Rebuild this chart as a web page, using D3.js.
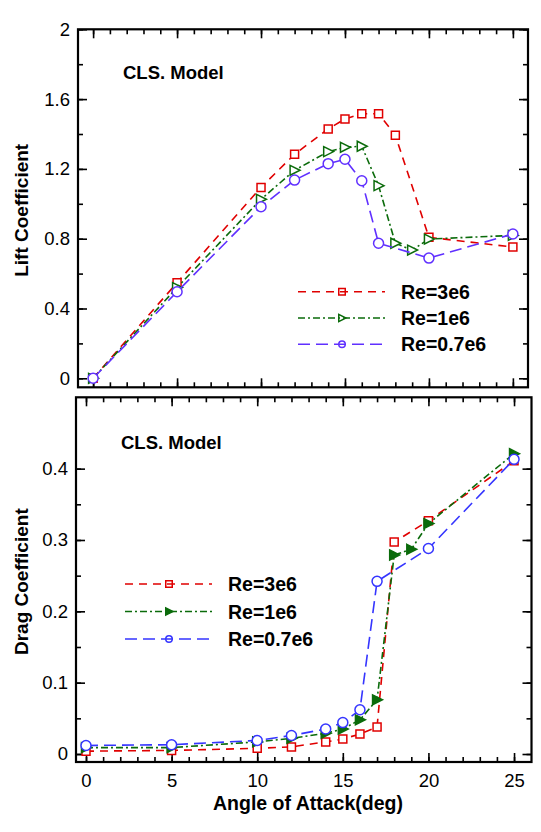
<!DOCTYPE html>
<html><head><meta charset="utf-8">
<script src="https://cdn.jsdelivr.net/npm/d3@7"></script>
<style>
body{margin:0;background:#fff}
svg{display:block}
text{font-family:"Liberation Sans",Arial,Helvetica,sans-serif;fill:#000}
</style>
</head><body>
<svg id="c" width="541" height="832"></svg>
<script>
// ---- data ----
const seriesNames = ["Re=3e6", "Re=1e6", "Re=0.7e6"];
const aoaRe3e6  = [0, 5, 10, 12, 14, 15, 16, 17, 18, 20, 25];
const aoaRe1e6  = [0, 5, 10, 12, 14, 15, 16, 17, 18, 19, 20, 25];
const aoaRe07e6 = [0, 5, 10, 12, 14, 15, 16, 17, 20, 25];
const clRe3e6  = [0, 0.548, 1.094, 1.284, 1.429, 1.486, 1.516, 1.516, 1.393, 0.808, 0.752];
const clRe1e6  = [0, 0.52, 1.026, 1.192, 1.299, 1.324, 1.33, 1.104, 0.774, 0.735, 0.798, 0.819];
const clRe07e6 = [0, 0.496, 0.983, 1.136, 1.23, 1.255, 1.132, 0.774, 0.689, 0.827];
const cdRe3e6  = [0.004, 0.005, 0.008, 0.010, 0.017, 0.021, 0.028, 0.038, 0.297, 0.327, 0.411];
const cdRe1e6  = [0.009, 0.009, 0.017, 0.022, 0.029, 0.035, 0.048, 0.076, 0.279, 0.287, 0.323, 0.421];
const cdRe07e6 = [0.012, 0.013, 0.019, 0.026, 0.035, 0.044, 0.062, 0.242, 0.288, 0.413];
const xTicks = [0, 5, 10, 15, 20, 25];
const xTickLabels = ["0", "5", "10", "15", "20", "25"];
const liftTicks = [0, 0.4, 0.8, 1.2, 1.6, 2];
const liftTickLabels = ["0", "0.4", "0.8", "1.2", "1.6", "2"];
const dragTicks = [0, 0.1, 0.2, 0.3, 0.4];
const dragTickLabels = ["0", "0.1", "0.2", "0.3", "0.4"];

const svg = d3.select("#c");
const FONT = "Liberation Sans, Arial, sans-serif";

function zip(xs, ys){ return xs.map((x,i)=>[x, ys[i]]); }

function markerPath(type, size){
  if(type === "square") return d3.symbol(d3.symbolSquare, size*size)();
  if(type === "circle") return d3.symbol(d3.symbolCircle, Math.PI*size*size/4)();
  // right-pointing triangle
  const h = size*0.55, w = size*0.5;
  return `M${-w},${-h}L${w*1.2},0L${-w},${h}Z`;
}

function panel(cfg){
  const g = svg.append("g");
  const x = d3.scaleLinear().domain(cfg.xDomain).range([cfg.left, cfg.right]);
  const y = d3.scaleLinear().domain(cfg.yDomain).range([cfg.bottom, cfg.top]);

  const tickStyle = sel => { sel.select(".domain").remove(); sel.selectAll("line").attr("stroke","#000").attr("stroke-width",1.6); };
  const xMinor = d3.range(0, 26, 1);
  const yMinor = d3.range(cfg.yTicks[0], cfg.yTicks[cfg.yTicks.length-1] + cfg.yMinorStep/2 + 1e-9, cfg.yMinorStep).filter(v => v <= cfg.yDomain[1] + 1e-9);

  // minor ticks
  g.append("g").attr("transform",`translate(0,${cfg.bottom})`).call(d3.axisBottom(x).tickValues(xMinor).tickSize(-5).tickFormat("")).call(tickStyle);
  g.append("g").attr("transform",`translate(0,${cfg.top})`).call(d3.axisTop(x).tickValues(xMinor).tickSize(-5).tickFormat("")).call(tickStyle);
  g.append("g").attr("transform",`translate(${cfg.left},0)`).call(d3.axisLeft(y).tickValues(yMinor).tickSize(-5).tickFormat("")).call(tickStyle);
  g.append("g").attr("transform",`translate(${cfg.right},0)`).call(d3.axisRight(y).tickValues(yMinor).tickSize(-5).tickFormat("")).call(tickStyle);
  // major ticks
  const xb = g.append("g").attr("transform",`translate(0,${cfg.bottom})`)
    .call(d3.axisBottom(x).tickValues(xTicks).tickSize(-9).tickPadding(12)
      .tickFormat((d,i)=> cfg.xLabels ? xTickLabels[i] : "")).call(tickStyle);
  xb.selectAll("text").attr("font-size",18.5).style("font-family",FONT).attr("fill","#000");
  g.append("g").attr("transform",`translate(0,${cfg.top})`).call(d3.axisTop(x).tickValues(xTicks).tickSize(-9).tickFormat("")).call(tickStyle);
  const yl = g.append("g").attr("transform",`translate(${cfg.left},0)`)
    .call(d3.axisLeft(y).tickValues(cfg.yTicks).tickSize(-9).tickPadding(8)
      .tickFormat((d,i)=>cfg.yLabels[i])).call(tickStyle);
  yl.selectAll("text").attr("font-size",18.5).style("font-family",FONT).attr("fill","#000");
  g.append("g").attr("transform",`translate(${cfg.right},0)`).call(d3.axisRight(y).tickValues(cfg.yTicks).tickSize(-9).tickFormat("")).call(tickStyle);

  // frame
  g.append("rect").attr("x",cfg.left).attr("y",cfg.top).attr("width",cfg.right-cfg.left).attr("height",cfg.bottom-cfg.top)
    .attr("fill","none").attr("stroke","#000").attr("stroke-width",2.2);

  // series
  const line = d3.line().x(d=>x(d[0])).y(d=>y(d[1]));
  cfg.series.forEach(s=>{
    const pts = zip(s.xs, s.ys);
    g.append("path").attr("d", line(pts)).attr("fill","none").attr("stroke",s.color)
      .attr("stroke-width",1.6).attr("stroke-dasharray",s.dash);
    g.selectAll(null).data(pts).enter().append("path")
      .attr("d", markerPath(s.marker, s.size))
      .attr("transform", d=>`translate(${x(d[0])},${y(d[1])})`)
      .attr("fill", s.filled ? s.color : "#fff").attr("stroke", s.color).attr("stroke-width",1.5);
  });

  // legend
  cfg.series.forEach((s,i)=>{
    const ly = cfg.legendY + i*cfg.legendDy;
    g.append("line").attr("x1",cfg.legendX).attr("x2",cfg.legendX+87).attr("y1",ly).attr("y2",ly)
      .attr("stroke",s.color).attr("stroke-width",1.6).attr("stroke-dasharray",s.legendDash);
    g.append("path").attr("d", markerPath(s.marker, 6.5))
      .attr("transform",`translate(${cfg.legendX+44},${ly})`)
      .attr("fill", s.filled ? s.color : "none").attr("stroke",s.color).attr("stroke-width",1.5);
    g.append("text").attr("x",cfg.legendX+103).attr("y",ly+7).attr("font-size",19.5).attr("font-weight","bold")
      .text(seriesNames[i]);
  });

  g.append("text").attr("x",cfg.left+45).attr("y",cfg.top+cfg.noteDy).attr("font-size",18.5).attr("font-weight","bold").text("CLS. Model");

  g.append("text").attr("transform",`translate(28,${(cfg.top+cfg.bottom)/2+2}) rotate(-90)`)
    .attr("text-anchor","middle").attr("font-size",19).attr("font-weight","bold").text(cfg.yTitle);
  return {x,y};
}

panel({
  left:78, right:528, top:29.3, bottom:387.3,
  xDomain:[-0.9, 25.9], yDomain:[-0.0516, 2],
  yTicks: liftTicks, yLabels: liftTickLabels, yMinorStep:0.2, xLabels:false,
  yTitle:"Lift Coefficient", noteDy:50,
  legendX:298, legendY:291.7, legendDy:26.3,
  series:[
    {xs:aoaRe3e6, ys:clRe3e6, color:"#e00000", dash:"8,6", legendDash:"8,6", marker:"square", size:8, filled:false},
    {xs:aoaRe1e6, ys:clRe1e6, color:"#0b6b0b", dash:"7,3,2,3", legendDash:"7,3,2,3", marker:"tri", size:9, filled:false},
    {xs:aoaRe07e6, ys:clRe07e6, color:"#6030ff", dash:"12,6", legendDash:"12,6", marker:"circle", size:10, filled:false}
  ]
});

panel({
  left:76, right:531.5, top:397.3, bottom:762,
  xDomain:[-0.584, 26.02], yDomain:[-0.0112, 0.5],
  yTicks: dragTicks, yLabels: dragTickLabels, yMinorStep:0.05, xLabels:true,
  yTitle:"Drag Coefficient", noteDy:52,
  legendX:125, legendY:584, legendDy:27.5,
  series:[
    {xs:aoaRe3e6, ys:cdRe3e6, color:"#e00000", dash:"8,6", legendDash:"8,6", marker:"square", size:8, filled:false},
    {xs:aoaRe1e6, ys:cdRe1e6, color:"#0b6b0b", dash:"7,3,2,3", legendDash:"7,3,2,3", marker:"tri", size:9, filled:true},
    {xs:aoaRe07e6, ys:cdRe07e6, color:"#3535ff", dash:"12,6", legendDash:"12,6", marker:"circle", size:10, filled:false}
  ]
});

svg.append("text").attr("x",308).attr("y",810).attr("text-anchor","middle").attr("font-size",19.5)
  .attr("font-weight","bold").text("Angle of Attack(deg)");
</script>
</body></html>
